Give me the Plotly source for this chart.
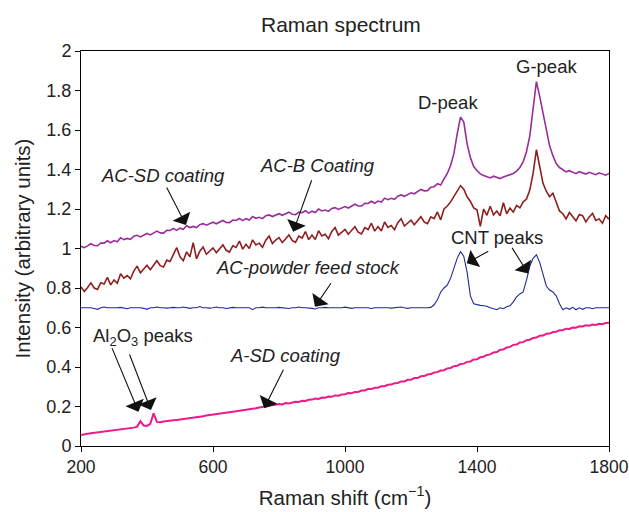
import plotly.graph_objects as go

raman_shift = list(range(200, 1801, 10))

ac_sd_coating = [
    1.011, 1.004, 1.013, 1.024, 1.015, 1.014, 1.028, 1.027, 1.039, 1.029,
    1.040, 1.034, 1.054, 1.045, 1.051, 1.046, 1.062, 1.067, 1.059, 1.069,
    1.076, 1.069, 1.078, 1.088, 1.079, 1.078, 1.092, 1.091, 1.102, 1.092,
    1.103, 1.097, 1.115, 1.106, 1.112, 1.106, 1.121, 1.126, 1.118, 1.126,
    1.133, 1.125, 1.133, 1.142, 1.132, 1.131, 1.144, 1.142, 1.152, 1.141,
    1.151, 1.144, 1.162, 1.153, 1.158, 1.151, 1.166, 1.170, 1.162, 1.170,
    1.176, 1.168, 1.175, 1.184, 1.173, 1.171, 1.184, 1.181, 1.191, 1.179,
    1.189, 1.182, 1.200, 1.190, 1.195, 1.188, 1.203, 1.207, 1.198, 1.206,
    1.212, 1.205, 1.214, 1.224, 1.215, 1.215, 1.229, 1.228, 1.239, 1.229,
    1.240, 1.235, 1.255, 1.247, 1.254, 1.249, 1.265, 1.271, 1.264, 1.274,
    1.282, 1.277, 1.288, 1.299, 1.292, 1.293, 1.310, 1.313, 1.328, 1.321,
    1.352, 1.380, 1.420, 1.480, 1.580, 1.665, 1.640, 1.530, 1.460, 1.415,
    1.395, 1.378, 1.370, 1.364, 1.357, 1.366, 1.360, 1.354, 1.362, 1.368,
    1.372, 1.380, 1.392, 1.410, 1.440, 1.490, 1.570, 1.700, 1.845, 1.770,
    1.680, 1.590, 1.520, 1.470, 1.430, 1.410, 1.398, 1.388, 1.394, 1.386,
    1.379, 1.389, 1.382, 1.377, 1.386, 1.380, 1.374, 1.383, 1.377, 1.371,
    1.380,
]

ac_b_coating = [
    0.805, 0.783, 0.803, 0.826, 0.800, 0.793, 0.827, 0.820, 0.854, 0.816,
    0.841, 0.824, 0.872, 0.850, 0.863, 0.846, 0.886, 0.911, 0.877, 0.899,
    0.915, 0.893, 0.914, 0.938, 0.913, 0.906, 0.941, 0.934, 0.970, 1.005,
    0.958, 0.938, 0.983, 0.958, 1.030, 0.948, 0.986, 1.007, 0.971, 0.989,
    1.003, 0.979, 0.997, 1.018, 0.991, 0.982, 1.014, 1.005, 1.038, 0.997,
    1.021, 1.000, 1.044, 1.018, 1.027, 1.006, 1.042, 1.063, 1.025, 1.043,
    1.055, 1.030, 1.048, 1.069, 1.041, 1.031, 1.063, 1.053, 1.086, 1.045,
    1.068, 1.046, 1.090, 1.063, 1.072, 1.050, 1.086, 1.106, 1.068, 1.085,
    1.097, 1.072, 1.091, 1.111, 1.083, 1.074, 1.106, 1.096, 1.128, 1.088,
    1.111, 1.089, 1.134, 1.107, 1.116, 1.095, 1.131, 1.151, 1.114, 1.131,
    1.143, 1.120, 1.139, 1.161, 1.134, 1.126, 1.160, 1.151, 1.185, 1.145,
    1.200, 1.215, 1.236, 1.262, 1.290, 1.318, 1.300, 1.262, 1.238, 1.206,
    1.196, 1.112, 1.200, 1.168, 1.214, 1.170, 1.190, 1.166, 1.232, 1.176,
    1.204, 1.184, 1.218, 1.206, 1.236, 1.250, 1.296, 1.380, 1.500, 1.410,
    1.330, 1.290, 1.262, 1.280, 1.236, 1.190, 1.176, 1.150, 1.182, 1.158,
    1.140, 1.172, 1.166, 1.135, 1.160, 1.178, 1.142, 1.150, 1.128, 1.166,
    1.148,
]

ac_powder_feed_stock = [
    0.700, 0.700, 0.702, 0.700, 0.696, 0.692, 0.700, 0.704, 0.700, 0.700,
    0.698, 0.700, 0.702, 0.700, 0.695, 0.700, 0.700, 0.703, 0.700, 0.697,
    0.692, 0.700, 0.700, 0.704, 0.700, 0.700, 0.698, 0.700, 0.702, 0.700,
    0.700, 0.704, 0.700, 0.697, 0.700, 0.700, 0.706, 0.700, 0.700, 0.698,
    0.700, 0.704, 0.700, 0.700, 0.696, 0.700, 0.702, 0.700, 0.700, 0.697,
    0.700, 0.700, 0.690, 0.700, 0.700, 0.703, 0.700, 0.700, 0.698, 0.700,
    0.702, 0.700, 0.700, 0.696, 0.700, 0.700, 0.704, 0.700, 0.700, 0.700,
    0.697, 0.694, 0.700, 0.700, 0.702, 0.700, 0.700, 0.698, 0.700, 0.700,
    0.703, 0.700, 0.697, 0.700, 0.700, 0.700, 0.702, 0.700, 0.696, 0.700,
    0.700, 0.700, 0.703, 0.700, 0.698, 0.700, 0.700, 0.704, 0.700, 0.697,
    0.700, 0.700, 0.700, 0.698, 0.700, 0.700, 0.702, 0.715, 0.740, 0.780,
    0.800, 0.815, 0.850, 0.900, 0.950, 0.985, 0.960, 0.880, 0.760, 0.720,
    0.715, 0.712, 0.710, 0.708, 0.700, 0.695, 0.690, 0.700, 0.695, 0.705,
    0.710, 0.730, 0.755, 0.770, 0.780, 0.840, 0.910, 0.950, 0.968, 0.930,
    0.870, 0.810, 0.790, 0.780, 0.760, 0.720, 0.690, 0.700, 0.692, 0.702,
    0.690, 0.700, 0.692, 0.700, 0.700, 0.695, 0.700, 0.700, 0.700, 0.700,
    0.700,
]

a_sd_coating = [
    0.055, 0.060, 0.062, 0.064, 0.066, 0.068, 0.070, 0.072, 0.075, 0.077,
    0.078, 0.080, 0.083, 0.084, 0.087, 0.090, 0.093, 0.098, 0.125, 0.104,
    0.102, 0.112, 0.165, 0.122, 0.120, 0.124, 0.125, 0.127, 0.130, 0.132,
    0.134, 0.136, 0.139, 0.141, 0.143, 0.146, 0.149, 0.151, 0.154, 0.156,
    0.159, 0.162, 0.164, 0.167, 0.169, 0.171, 0.174, 0.176, 0.179, 0.181,
    0.183, 0.186, 0.188, 0.191, 0.195, 0.198, 0.199, 0.201, 0.204, 0.207,
    0.212, 0.210, 0.217, 0.215, 0.220, 0.224, 0.223, 0.229, 0.228, 0.234,
    0.235, 0.240, 0.238, 0.245, 0.244, 0.250, 0.249, 0.256, 0.255, 0.261,
    0.262, 0.268, 0.267, 0.274, 0.274, 0.281, 0.281, 0.288, 0.288, 0.295,
    0.295, 0.302, 0.303, 0.310, 0.311, 0.318, 0.319, 0.327, 0.327, 0.335,
    0.335, 0.344, 0.344, 0.353, 0.354, 0.362, 0.364, 0.372, 0.374, 0.382,
    0.384, 0.393, 0.395, 0.404, 0.406, 0.415, 0.417, 0.426, 0.428, 0.438,
    0.439, 0.449, 0.452, 0.461, 0.464, 0.474, 0.476, 0.487, 0.489, 0.499,
    0.502, 0.512, 0.514, 0.524, 0.526, 0.536, 0.538, 0.547, 0.549, 0.558,
    0.559, 0.568, 0.569, 0.577, 0.578, 0.586, 0.586, 0.594, 0.593, 0.600,
    0.599, 0.606, 0.605, 0.611, 0.609, 0.615, 0.613, 0.619, 0.617, 0.623,
    0.624,
]

x_tick_values = [200, 600, 1000, 1400, 1800]
y_tick_values = [0, 0.2, 0.4, 0.6, 0.8, 1.0, 1.2, 1.4, 1.6, 1.8, 2.0]
y_tick_labels = ["0", "0.2", "0.4", "0.6", "0.8", "1", "1.2", "1.4", "1.6", "1.8", "2"]

FONT = "Liberation Sans, Arial, Helvetica, sans-serif"
TXT = "#222222"

fig = go.Figure()
series = [
    ("AC-SD coating", ac_sd_coating, "#9b2d9b", 1.6),
    ("AC-B Coating", ac_b_coating, "#8e1f1f", 1.6),
    ("AC-powder feed stock", ac_powder_feed_stock, "#1f2a9a", 1.1),
    ("A-SD coating", a_sd_coating, "#ec1a8a", 2.0),
]
for name, vals, color, w in series:
    fig.add_trace(go.Scatter(x=raman_shift, y=vals, mode="lines", name=name,
                             line=dict(color=color, width=w), showlegend=False))

text_labels = [
    (448, 1.372, "<i>AC-SD coating</i>"),
    (918, 1.418, "<i>AC-B Coating</i>"),
    (888, 0.904, "<i>AC-powder feed stock</i>"),
    (1312, 1.737, "D-peak"),
    (1612, 1.924, "G-peak"),
    (1461, 1.056, "CNT peaks"),
    (388, 0.552, "Al<sub>2</sub>O<sub>3</sub> peaks"),
    (821, 0.456, "<i>A-SD coating</i>"),
]
for x, y, t in text_labels:
    fig.add_annotation(x=x, y=y, text=t, showarrow=False,
                       font=dict(family=FONT, size=18.5, color=TXT))

arrows = [
    (518, 1.119, -20, -39),
    (843, 1.085, 19, -53),
    (909, 0.705, 17, -25),
    (1369, 0.925, 23, -13),
    (1555, 0.874, -17, -27),
    (374, 0.174, -27, -65),
    (412, 0.182, -22, -57),
    (755, 0.191, 20, -40),
]
for x, y, ax, ay in arrows:
    fig.add_annotation(x=x, y=y, ax=ax, ay=ay, text="", showarrow=True,
                       arrowhead=1, arrowsize=3, arrowwidth=1.1,
                       arrowcolor="#111111", standoff=0, startstandoff=0)

fig.update_layout(
    width=629, height=512,
    margin=dict(l=81, r=20, t=51, b=66),
    paper_bgcolor="white", plot_bgcolor="white",
    title=dict(text="Raman spectrum", x=0.542, xanchor="center", y=0.951, yanchor="middle",
               font=dict(family=FONT, size=21, color=TXT)),
    font=dict(family=FONT, size=18, color=TXT),
)
fig.update_xaxes(range=[200, 1800], tickvals=x_tick_values, automargin=False,
                 ticklabeloverflow="allow",
                 ticks="outside", ticklen=5, tickcolor="black",
                 showline=True, linecolor="black", linewidth=1, mirror=True,
                 showgrid=False, zeroline=False,
                 tickfont=dict(family=FONT, size=17.5, color=TXT),
                 title=dict(text="Raman shift (cm<sup>−1</sup>)", standoff=14,
                            font=dict(family=FONT, size=20.5, color=TXT)))
fig.update_yaxes(range=[0, 2], tickvals=y_tick_values, ticktext=y_tick_labels, automargin=False,
                 ticklabeloverflow="allow",
                 ticks="outside", ticklen=5, tickcolor="black",
                 showline=True, linecolor="black", linewidth=1, mirror=True,
                 showgrid=False, zeroline=False,
                 tickfont=dict(family=FONT, size=18, color=TXT),
                 title=dict(text="Intensity (arbitrary units)", standoff=10,
                            font=dict(family=FONT, size=20.5, color=TXT)))

# remove the browser's default 8px body margin so the figure fills the window exactly
fig.write_html("out.html",
               config={"displayModeBar": False},
               post_script="document.body.style.margin='0px';document.body.style.overflow='hidden';")
